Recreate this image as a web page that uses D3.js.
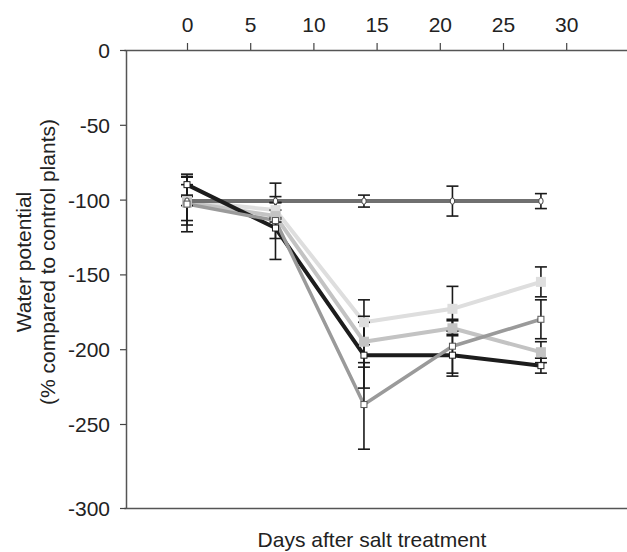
<!DOCTYPE html>
<html>
<head>
<meta charset="utf-8">
<script src="https://cdn.jsdelivr.net/npm/d3@7"></script>
<style>
	body { margin:0; background:#fff; }
	#chart text { font-family:"Liberation Sans", Arial, sans-serif; fill:#222; }
	.axisLine path.domain { stroke:#555; stroke-width:1.5; }
	.axisLine .tick line { stroke:#444; stroke-width:1.2; }
</style>
</head>
<body>
<div id="chart"></div>
<script>
// days of measurement
var days = [0, 7, 14, 21, 28];
var xTicks = [0, 5, 10, 15, 20, 25, 30];
var yTicks = [0, -50, -100, -150, -200, -250, -300];

// water potential (% of control) and error bars, one pair per line
var ctrlVals = [-101, -101, -101, -101, -101];
var ctrlErr  = [3, 12, 4, 10, 5];
var blackVals = [-90, -119, -204, -204, -211];
var blackErr  = [7, 21, 22, 14, 5];
var lightVals = [-101, -107, -182, -173, -155];
var lightErr  = [16, 5, 15, 15, 10];
var midVals = [-102, -111, -195, -186, -202];
var midErr  = [12, 4, 17, 5, 7];
var grayVals = [-103, -114, -237, -198, -180];
var grayErr  = [18.5, 12, 28, 18, 13];

(function () {
	'use strict'

	var W = 627, H = 552;
	var fontSz = "21px";

	var svg = d3.select("#chart").append("svg")
		.attr("width", W)
		.attr("height", H);

	// scanned figure: last band (-250..-300) is a bit taller than the others
	var x = d3.scaleLinear().domain([-5, 35]).range([123.8, 629.4]);
	var y = d3.scaleLinear().domain([0, -250, -300]).range([50, 424, 508]);

	var plainNum = function(d){ return String(d); };	// keep ascii hyphen like the original

	var seriesList = [
		{ name:"light", vals:lightVals, err:lightErr, color:"#dedede", width:4, marker:"fill" },
		{ name:"mid", vals:midVals, err:midErr, color:"#c3c3c3", width:4, marker:"fill" },
		{ name:"ctrl", vals:ctrlVals, err:ctrlErr, color:"#707070", width:4, marker:"circle" },
		{ name:"black", vals:blackVals, err:blackErr, color:"#1c1c1c", width:4, marker:"open", edge:"#1c1c1c" },
		{ name:"gray", vals:grayVals, err:grayErr, color:"#9a9a9a", width:3.5, marker:"open", edge:"#555" }
	];

	// axes
	svg.append("g")
		.attr("class", "axisLine topAxis")
		.attr("transform", "translate(0,50)")
		.call(d3.axisTop(x).tickValues(xTicks).tickFormat(plainNum).tickSize(7).tickSizeOuter(0).tickPadding(11));

	svg.append("g")
		.attr("class", "axisLine bottomAxis")
		.attr("transform", "translate(0,508)")
		.call(d3.axisBottom(x).tickValues([]).tickSizeOuter(0));

	svg.append("g")
		.attr("class", "axisLine leftAxis")
		.attr("transform", "translate(126,0)")
		.call(d3.axisLeft(y).tickValues(yTicks).tickFormat(plainNum).tickSize(6).tickSizeOuter(0).tickPadding(10));

	svg.selectAll(".axisLine text")
		.attr("font-size", fontSz)
		.style("font-family", "'Liberation Sans', Arial, sans-serif")
		.attr("fill", "#222");
	svg.select(".leftAxis").selectAll(".tick text").attr("dy", "0.36em");

	// axis titles
	svg.append("text")
		.attr("x", 372)
		.attr("y", 547)
		.attr("text-anchor", "middle")
		.attr("font-size", fontSz)
		.text("Days after salt treatment");

	var yTitle = svg.append("text")
		.attr("transform", "translate(31,262) rotate(-90)")
		.attr("text-anchor", "middle")
		.attr("font-size", fontSz);
	yTitle.append("tspan").attr("x", 0).attr("dy", 0).text("Water potential");
	yTitle.append("tspan").attr("x", 0).attr("dy", "1.15em").text("(% compared to control plants)");

	// lines
	var line = d3.line()
		.x(function(d, i){ return x(days[i]); })
		.y(function(d){ return y(d); });

	var plot = svg.append("g").attr("class", "plotG");

	seriesList.forEach(function(s){
		plot.append("path")
			.attr("d", line(s.vals))
			.attr("fill", "none")
			.attr("stroke", s.color)
			.attr("stroke-width", s.width)
			.attr("stroke-linejoin", "round");
	});

	// error bars
	var capW = 6;
	seriesList.forEach(function(s){
		var eg = plot.append("g").attr("class", "errG " + s.name);
		s.vals.forEach(function(v, i){
			var cx = x(days[i]);
			var top = y(v + s.err[i]), bot = y(v - s.err[i]);
			eg.append("line")
				.attr("x1", cx).attr("x2", cx)
				.attr("y1", top).attr("y2", bot)
				.attr("stroke", "#1a1a1a").attr("stroke-width", 1.6);
			eg.append("line")
				.attr("x1", cx - capW).attr("x2", cx + capW)
				.attr("y1", top).attr("y2", top)
				.attr("stroke", "#1a1a1a").attr("stroke-width", 1.6);
			eg.append("line")
				.attr("x1", cx - capW).attr("x2", cx + capW)
				.attr("y1", bot).attr("y2", bot)
				.attr("stroke", "#1a1a1a").attr("stroke-width", 1.6);
		});
	});

	// markers
	seriesList.forEach(function(s){
		var mg = plot.append("g").attr("class", "markG " + s.name);
		if(s.marker == "fill"){
			mg.selectAll("rect").data(s.vals).enter().append("rect")
				.attr("x", function(d, i){ return x(days[i]) - 5; })
				.attr("y", function(d){ return y(d) - 5; })
				.attr("width", 10).attr("height", 10)
				.attr("fill", s.color);
		}else if(s.marker == "open"){
			mg.selectAll("rect").data(s.vals).enter().append("rect")
				.attr("x", function(d, i){ return x(days[i]) - 3; })
				.attr("y", function(d){ return y(d) - 3; })
				.attr("width", 6).attr("height", 6)
				.attr("fill", "#fff")
				.attr("stroke", s.edge).attr("stroke-width", 1);
		}else {
			mg.selectAll("ellipse").data(s.vals).enter().append("ellipse")
				.attr("cx", function(d, i){ return x(days[i]); })
				.attr("cy", function(d){ return y(d); })
				.attr("rx", 2.2).attr("ry", 3.2)
				.attr("fill", "#fff")
				.attr("stroke", "#444").attr("stroke-width", 1);
		}
	});

})()
</script>
</body>
</html>
